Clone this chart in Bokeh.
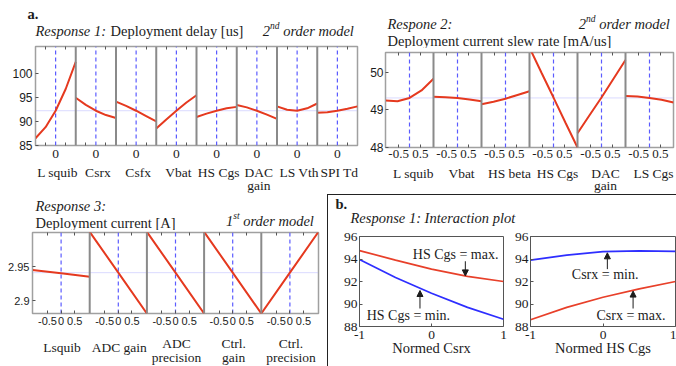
from bokeh.plotting import figure
from bokeh.models import (Range1d, FixedTicker, Span, Label, Arrow, NormalHead,
                          LinearAxis, Div)
from bokeh.layouts import row, column
from bokeh.embed import file_html
from bokeh.resources import INLINE

# ===================== data =====================
# Response 1: Deployment delay [us] (2nd order model) - main effects
R1_FACTORS = ["L squib", "Csrx", "Csfx", "Vbat", "HS Cgs", "DAC\ngain", "LS Vth", "SPI Td"]
R1_X = [-1.0, -0.5, 0.0, 0.5, 1.0]
r1_l_squib = [86.5, 88.8, 92.2, 96.7, 102.3]
r1_csrx = [94.9, 93.4, 92.2, 91.3, 90.7]
r1_csfx = [94.1, 93.2, 92.2, 91.1, 90.0]
r1_vbat = [88.5, 90.4, 92.2, 93.9, 95.4]
r1_hs_cgs = [90.9, 91.6, 92.2, 92.7, 93.0]
r1_dac_gain = [93.4, 92.9, 92.2, 91.4, 90.5]
r1_ls_vth = [93.1, 92.4, 92.2, 92.7, 93.7]
r1_spi_td = [91.8, 91.9, 92.2, 92.6, 93.1]
R1_MEAN = 92.2
R1_Y = (85.0, 105.5)
R1_YTICKS = [85, 90, 95, 100]
R1_SPAN = (-1.0, 1.0)
R1_XTICKS = [0.0]
R1_XTICK_LABELS = ["0"]
R1_XMINOR = [-0.5, 0.5]

# Response 2: Deployment current slew rate [mA/us] (2nd order model)
R2_FACTORS = ["L squib", "Vbat", "HS beta", "HS Cgs", "DAC\ngain", "LS Cgs"]
R2_X = [-1.1, -0.55, 0.0, 0.55, 1.1]
r2_l_squib = [49.25, 49.23, 49.32, 49.52, 49.83]
r2_vbat = [49.35, 49.34, 49.32, 49.28, 49.23]
r2_hs_beta = [49.15, 49.22, 49.30, 49.40, 49.50]
r2_hs_cgs = [50.66, 49.99, 49.33, 48.66, 48.00]
r2_dac_gain = [48.38, 48.86, 49.33, 49.83, 50.33]
r2_ls_cgs = [49.37, 49.36, 49.32, 49.27, 49.20]
R2_MEAN = 49.32
R2_Y = (48.0, 50.53)
R2_YTICKS = [48, 49, 50]
R2_SPAN = (-1.1, 1.1)
R2_XTICKS = [-0.5, 0.5]
R2_XTICK_LABELS = ["-0.5", "0.5"]

# Response 3: Deployment current [A] (1st order model)
R3_FACTORS = ["Lsquib", "ADC gain", "ADC\nprecision", "Ctrl.\ngain", "Ctrl.\nprecision"]
R3_X = [-1.05, 0.0, 1.05]
r3_lsquib = [2.945, 2.940, 2.935]
r3_adc_gain = [3.001, 2.941, 2.881]
r3_adc_precision = [3.001, 2.941, 2.881]
r3_ctrl_gain = [3.001, 2.941, 2.881]
r3_ctrl_precision = [2.881, 2.941, 3.001]
R3_MEAN = 2.941
R3_Y = (2.881, 3.0)
R3_YTICKS = [2.9, 2.95]
R3_YTICK_LABELS = ["2.9", "2.95"]
R3_SPAN = (-1.05, 1.05)
R3_XTICKS = [-0.5, 0.0, 0.5]
R3_XTICK_LABELS = ["-0.5", "0", "0.5"]

# b. Response 1: interaction plot
B_X = [-1.0, -0.5, 0.0, 0.5, 1.0]
b_csrx_hs_cgs_max = [94.75, 93.9, 93.1, 92.45, 92.0]
b_csrx_hs_cgs_min = [93.95, 92.35, 90.95, 89.7, 88.65]
b_hscgs_csrx_min = [93.9, 94.35, 94.65, 94.72, 94.68]
b_hscgs_csrx_max = [88.6, 89.7, 90.6, 91.35, 92.0]
B_Y = (88.0, 96.0)
B_YTICKS = [88, 90, 92, 94, 96]
B_XTICKS = [-1.0, 0.0, 1.0]
B_XTICK_LABELS = ["-1", "0", "1"]
# annotation anchors (data units): text, text x, text y, arrow x, arrow y from, arrow y to
B1_NOTES = [("HS Cgs = max.", -0.26, 94.4, 0.47, 93.8, 92.5),
            ("HS Cgs = min.", -0.90, 89.0, -0.16, 89.6, 91.2)]
B2_NOTES = [("Csrx = min.", -0.43, 92.65, 0.06, 93.1, 94.55),
            ("Csrx = max.", -0.09, 89.0, 0.415, 89.6, 91.15)]

# ===================== style =====================
SERIF = "Liberation Serif"
SANS = "Liberation Sans"
TXT = "#1c1c1c"
RED = "#e5391f"
BLUE_DASH = "#5b5bff"
MEAN_C = "#b5b5ff"
DIV_C = "#8a8a8a"
FRAME_C = "#a0a0a0"
TICK_C = "#555555"
B_RED = "#e8402a"
B_BLUE = "#2e2eff"
TITLE_PX = 14.5

W, H = 676, 366
H1 = 194
F1_W = 366
F2_W = W - F1_W
H2 = H - H1
F3_W = 327
B_W = W - F3_W - 1
BT_H = 32
B_H = H2 - 1 - BT_H
F4_W = 182
F5_W = B_W - F4_W

ITALIC_W = {" ": .25, "o": .5, "r": .389, "d": .5, "e": .444, "m": .722, "l": .278,
            "n": .5, "s": .389, "t": .278}


def text_w(s, size):
    return sum(ITALIC_W.get(c, .5) for c in s) * size


def make_fig(w, h, xr, yr, bl, br, bt, bb, outline=FRAME_C, outline_w=1.5):
    p = figure(width=w, height=h, x_range=xr, y_range=yr, title=None,
               x_axis_type=None, y_axis_type=None, toolbar_location=None,
               output_backend="svg", min_border_left=bl, min_border_right=br,
               min_border_top=bt, min_border_bottom=bb)
    p.outline_line_color = outline
    p.outline_line_width = outline_w
    p.background_fill_color = "white"
    p.border_fill_color = "white"
    return p


def text_fig(w, h):
    """A figure whose frame is the whole canvas, used only to hold text."""
    return make_fig(w, h, Range1d(0, 1), Range1d(0, 1), 0, 0, 0, 0, outline=None)


def label(p, cx, cy, text, size=f"{TITLE_PX}px", style="normal", align="left", font=SERIF):
    # cx, cy: position in the text figure's canvas, y measured from the top
    p.add_layout(Label(x=cx, y=p.height - cy, x_units="screen", y_units="screen",
                       text=text, text_font=font, text_font_size=size,
                       text_font_style=style, text_align=align,
                       text_baseline="middle", text_color=TXT))


def model_tag(p, right, cy, num, sup, rest, size=TITLE_PX, sup_size=9.5):
    label(p, right, cy, rest, f"{size}px", "italic", "right")
    x = right - text_w(rest, size) - 3
    label(p, x, cy - 4.5, sup, f"{sup_size}px", "italic", "right")
    x -= text_w(sup, sup_size)
    label(p, x, cy, num, f"{size}px", "italic", "right")


def effects(p, series, xs, span, mean):
    lo, hi = span
    step = hi - lo
    yr = p.y_range
    p.add_layout(Span(location=mean, dimension="width", line_color=MEAN_C,
                      line_dash="1 1", line_width=1, level="underlay"))
    for i, ys in enumerate(series):
        off = i * step
        sub = p.subplot(x_source=Range1d(lo, hi), y_source=yr,
                        x_target=Range1d(off + lo, off + hi), y_target=yr)
        sub.segment(x0=[0.0], y0=[yr.start], x1=[0.0], y1=[yr.end],
                    line_color=BLUE_DASH, line_dash="4 3", line_width=1.2)
        sub.line(x=xs, y=ys, line_color=RED, line_width=2)
    for i in range(len(series) - 1):
        p.add_layout(Span(location=i * step + hi, dimension="height",
                          line_color=DIV_C, line_width=2))


def x_axis(p, n, span, ticks, labels, minor, font, size, standoff, tick_in):
    lo, hi = span
    step = hi - lo
    major, overrides = [], {}
    for i in range(n):
        for t, lab in zip(ticks, labels):
            major.append(i * step + t)
            overrides[i * step + t] = lab
    minor_pos = [i * step + m for i in range(n) for m in minor]
    ax = LinearAxis(ticker=FixedTicker(ticks=major, minor_ticks=minor_pos),
                    major_label_overrides=overrides)
    ax.axis_line_color = None
    ax.major_tick_in = tick_in
    ax.major_tick_out = 0
    ax.minor_tick_in = 3
    ax.minor_tick_out = 0
    ax.major_tick_line_color = TICK_C
    ax.minor_tick_line_color = TICK_C
    ax.major_label_standoff = standoff
    ax.major_label_text_font = font
    ax.major_label_text_font_size = size
    ax.major_label_text_color = TXT
    p.add_layout(ax, "below")
    # small tick marks along the top edge of every subplot
    top_pos = [i * step + m for i in range(n) for m in [-0.5, 0.5]]
    tax = LinearAxis(ticker=FixedTicker(ticks=[], minor_ticks=top_pos))
    tax.axis_line_color = None
    tax.major_tick_in = 0
    tax.major_tick_out = 0
    tax.minor_tick_in = 3
    tax.minor_tick_out = 0
    tax.minor_tick_line_color = TICK_C
    tax.major_label_standoff = 0
    p.add_layout(tax, "above")
    return ax


def y_axis(p, ticks, labels, font, size, standoff=3, line_color=FRAME_C):
    ax = LinearAxis(ticker=FixedTicker(ticks=ticks, minor_ticks=[]))
    if labels is not None:
        ax.major_label_overrides = dict(zip(ticks, labels))
    ax.axis_line_color = line_color
    ax.major_tick_in = 3
    ax.major_tick_out = 0
    ax.major_tick_line_color = TICK_C
    ax.major_label_standoff = standoff
    ax.major_label_text_font = font
    ax.major_label_text_font_size = size
    ax.major_label_text_color = TXT
    p.add_layout(ax, "left")


def names_fig(w, h, names, bl, br, cy, gap, shift, x_off=0, size="13.5px"):
    """Factor names under the subplots; bl/br are the plot's side borders."""
    p = text_fig(w, h)
    n = len(names)
    fw = w - bl - br
    for i, name in enumerate(names):
        lines = name.split("\n")
        y0 = cy + (shift if len(lines) > 1 else 0)
        cx = bl + (i + 0.5) * fw / n + x_off
        for k, ln in enumerate(lines):
            label(p, cx, y0 + k * gap, ln, size=size, align="center")
    return p


# ===================== a. Response 1 =====================
r1_series = [r1_l_squib, r1_csrx, r1_csfx, r1_vbat, r1_hs_cgs, r1_dac_gain, r1_ls_vth, r1_spi_td]
n1 = len(r1_series)
s1 = R1_SPAN[1] - R1_SPAN[0]
t1 = text_fig(F1_W, 40)
label(t1, 27, 13, "a.", style="bold")
label(t1, 35, 30, "Response 1:", style="italic")
label(t1, 110, 30, "Deployment delay [us]")
model_tag(t1, 357, 30, "2", "nd", " order model")
p1 = make_fig(F1_W, 120, Range1d(R1_SPAN[0], R1_SPAN[0] + n1 * s1), Range1d(*R1_Y),
              35, 9, 6, 15)
effects(p1, r1_series, R1_X, R1_SPAN, R1_MEAN)
x_axis(p1, n1, R1_SPAN, R1_XTICKS, R1_XTICK_LABELS, R1_XMINOR, SERIF, "13.5px", 4, 0)
y_axis(p1, R1_YTICKS, None, SANS, "12px")
m1 = names_fig(F1_W, 34, R1_FACTORS, 35, 9, 12, 13, 0, x_off=2)

# ===================== Response 2 =====================
r2_series = [r2_l_squib, r2_vbat, r2_hs_beta, r2_hs_cgs, r2_dac_gain, r2_ls_cgs]
n2 = len(r2_series)
s2 = R2_SPAN[1] - R2_SPAN[0]
t2 = text_fig(F2_W, 48)
label(t2, 21, 23, "Respone 2:", style="italic")
model_tag(t2, 307, 23, "2", "nd", " order model")
label(t2, 21, 40, "Deployment current slew rate [mA/us]")
p2 = make_fig(F2_W, 112, Range1d(R2_SPAN[0], R2_SPAN[0] + n2 * s2), Range1d(*R2_Y),
              19, 3, 4, 13)
effects(p2, r2_series, R2_X, R2_SPAN, R2_MEAN)
x_axis(p2, n2, R2_SPAN, R2_XTICKS, R2_XTICK_LABELS, [], SERIF, "13px", 2, 3)
y_axis(p2, R2_YTICKS, None, SANS, "12px", standoff=2)
m2 = names_fig(F2_W, 34, R2_FACTORS, 19, 3, 13, 12, 0, x_off=4)

# ===================== Response 3 =====================
r3_series = [r3_lsquib, r3_adc_gain, r3_adc_precision, r3_ctrl_gain, r3_ctrl_precision]
n3 = len(r3_series)
s3 = R3_SPAN[1] - R3_SPAN[0]
t3 = text_fig(F3_W, 36)
label(t3, 35, 11, "Response 3:", style="italic")
label(t3, 35, 28, "Deployment current [A]")
model_tag(t3, 317, 26, "1", "st", " order model")
p3 = make_fig(F3_W, 100, Range1d(R3_SPAN[0], R3_SPAN[0] + n3 * s3), Range1d(*R3_Y),
              32, 9, 2, 17)
effects(p3, r3_series, R3_X, R3_SPAN, R3_MEAN)
x_axis(p3, n3, R3_SPAN, R3_XTICKS, R3_XTICK_LABELS, [], SANS, "11px", 3, 3)
y_axis(p3, R3_YTICKS, R3_YTICK_LABELS, SANS, "11px")
m3 = names_fig(F3_W, 36, R3_FACTORS, 32, 9, 16.5, 14, -3.5, x_off=1)

# ===================== b. interaction plots =====================
pt = text_fig(B_W, BT_H)
label(pt, 7, 8, "b.", style="bold")
label(pt, 22, 22, "Response 1: Interaction plot", style="italic")


def interaction(w, bl, br, curves, notes, xlabel):
    p = make_fig(w, B_H, Range1d(B_X[0], B_X[-1]), Range1d(*B_Y), bl, br, 9, 40,
                 outline="#555555", outline_w=1)
    for ys, col in curves:
        p.line(x=B_X, y=ys, line_color=col, line_width=1.7)
    ax = LinearAxis(ticker=FixedTicker(ticks=B_XTICKS, minor_ticks=[]),
                    major_label_overrides=dict(zip(B_XTICKS, B_XTICK_LABELS)))
    ax.axis_line_color = None
    ax.major_tick_in = 3
    ax.major_tick_out = 0
    ax.major_tick_line_color = TICK_C
    ax.major_label_standoff = 4
    ax.major_label_text_font = SERIF
    ax.major_label_text_font_size = "13.5px"
    ax.major_label_text_color = TXT
    ax.axis_label = xlabel
    ax.axis_label_text_font = SERIF
    ax.axis_label_text_font_size = "14.5px"
    ax.axis_label_text_font_style = "normal"
    ax.axis_label_text_color = TXT
    ax.axis_label_standoff = -2
    p.add_layout(ax, "below")
    y_axis(p, B_YTICKS, None, SERIF, "13.5px", standoff=2, line_color="#555555")
    for text, tx, ty, axx, ay0, ay1 in notes:
        p.add_layout(Label(x=tx, y=ty, text=text, text_font=SERIF, text_font_size="14px",
                           text_baseline="middle", text_align="left", text_color=TXT))
        p.add_layout(Arrow(start=None, end=NormalHead(size=6, line_color=TXT, fill_color=TXT,
                                                      line_width=1),
                           x_start=axx, y_start=ay0, x_end=axx, y_end=ay1,
                           line_color=TXT, line_width=1))
    return p


p4 = interaction(F4_W, 31, 7, [(b_csrx_hs_cgs_max, B_RED), (b_csrx_hs_cgs_min, B_BLUE)],
                 B1_NOTES, "Normed Csrx")
p5 = interaction(F5_W, 20, 1, [(b_hscgs_csrx_min, B_BLUE), (b_hscgs_csrx_max, B_RED)],
                 B2_NOTES, "Normed HS Cgs")

vline = Div(text="", width=1, height=H2, margin=0, styles={"background-color": "#222222"})
hline = Div(text="", width=B_W, height=1, margin=0, styles={"background-color": "#222222"})

panel1 = column(row(t1), row(p1), row(m1))
panel2 = column(row(t2), row(p2), row(m2))
panel3 = column(row(t3), row(p3), row(m3))
panel_b = column(hline, row(pt), row(p4, p5))

layout = column(row(panel1, panel2), row(panel3, vline, panel_b))

open("out.html", "w").write(file_html(layout, INLINE))
